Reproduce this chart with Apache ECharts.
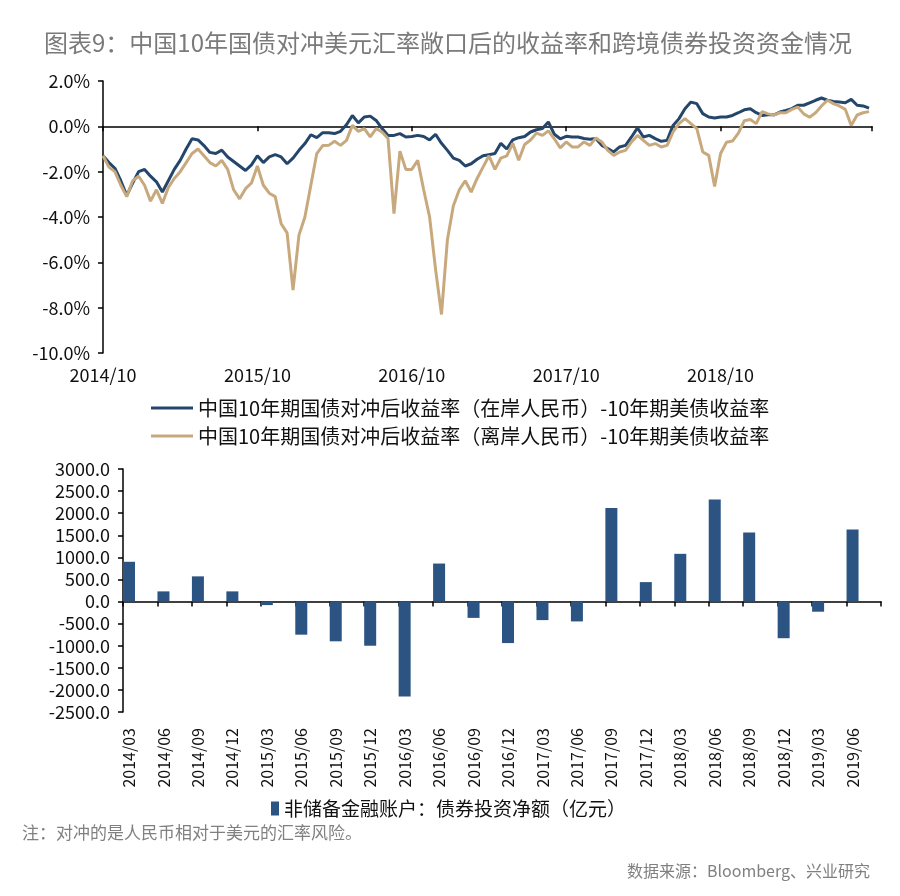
<!DOCTYPE html>
<html><head><meta charset="utf-8">
<script src="https://cdn.jsdelivr.net/npm/echarts@6/dist/echarts.min.js"></script>
<style>html,body{margin:0;padding:0;background:#fff}#c{width:900px;height:896px}</style>
</head><body><div id="c"></div>
<script>
const FONT = '"Noto Sans CJK SC","Noto Sans",sans-serif';

// ---- top chart: hedged yield spread, bi-weekly from 2014/10 ----
const lineNames = [
  '中国10年期国债对冲后收益率（在岸人民币）-10年期美债收益率',
  '中国10年期国债对冲后收益率（离岸人民币）-10年期美债收益率'
];
const yearTickLabels = ['2014/10', '2015/10', '2016/10', '2017/10', '2018/10'];
const periodsPerYear = 26;

const onshore = [
  -1.3, -1.6, -1.85, -2.4, -3.05, -2.5, -2.0, -1.9, -2.2, -2.45, -2.9, -2.4, -1.9, -1.5, -1.0, -0.55, -0.6, -0.85, -1.15, -1.2, -1.05, -1.35, -1.55, -1.75, -1.95, -1.7,
  -1.3, -1.6, -1.35, -1.25, -1.35, -1.65, -1.4, -1.06, -0.76, -0.37, -0.5, -0.28, -0.28, -0.32, -0.22, 0.07, 0.48, 0.15, 0.41, 0.45, 0.26, -0.1, -0.4, -0.4, -0.32, -0.47,
  -0.45, -0.4, -0.45, -0.6, -0.35, -0.75, -1.06, -1.4, -1.5, -1.75, -1.65, -1.45, -1.3, -1.25, -1.2, -0.75, -1.0, -0.6, -0.5, -0.45, -0.25, -0.15, -0.1, 0.19, -0.35, -0.55,
  -0.44, -0.47, -0.47, -0.54, -0.57, -0.54, -0.84, -0.98, -1.13, -0.91, -0.84, -0.47, -0.07, -0.47, -0.4, -0.54, -0.66, -0.62, 0.04, 0.34, 0.78, 1.07, 1.0, 0.56, 0.41, 0.37,
  0.41, 0.41, 0.48, 0.6, 0.73, 0.78, 0.6, 0.48, 0.51, 0.51, 0.63, 0.7, 0.78, 0.93, 0.93, 1.04, 1.15, 1.25, 1.15, 1.1, 1.07, 1.04, 1.19, 0.93, 0.9, 0.8
];
const offshore = [
  -1.3, -1.8, -2.0, -2.6, -3.1, -2.4, -2.2, -2.6, -3.3, -2.8, -3.4, -2.7, -2.3, -2.0, -1.6, -1.2, -1.0, -1.3, -1.6, -1.75, -1.5, -1.9, -2.8, -3.2, -2.75, -2.5,
  -1.75, -2.6, -2.95, -3.1, -4.3, -4.7, -7.22, -4.8, -4.0, -2.6, -1.2, -0.85, -0.84, -0.66, -0.84, -0.62, 0.04, -0.22, -0.1, -0.47, -0.1, -0.25, -0.54, -3.85, -1.1, -1.9,
  -1.9, -1.5, -2.8, -4.0, -6.3, -8.3, -5.0, -3.5, -2.8, -2.4, -2.9, -2.3, -1.8, -1.3, -1.9, -1.4, -1.3, -0.75, -1.5, -0.8, -0.6, -0.3, -0.4, -0.2, -0.55, -0.95,
  -0.69, -0.91, -0.91, -0.69, -0.84, -0.51, -0.69, -1.06, -1.28, -1.13, -1.06, -0.69, -0.4, -0.62, -0.84, -0.76, -0.91, -0.84, -0.25, 0.12, 0.34, 0.12, -0.1, -1.13, -1.28, -2.65,
  -1.2, -0.7, -0.65, -0.3, 0.25, 0.3, 0.12, 0.65, 0.55, 0.5, 0.6, 0.6, 0.75, 0.85, 0.55, 0.4, 0.6, 0.9, 1.15, 1.0, 0.9, 0.75, 0.04, 0.5, 0.6, 0.65
];

// ---- bottom chart: quarterly net bond investment (亿元) ----
const quarters = ['2014/03','2014/06','2014/09','2014/12','2015/03','2015/06','2015/09','2015/12',
  '2016/03','2016/06','2016/09','2016/12','2017/03','2017/06','2017/09','2017/12',
  '2018/03','2018/06','2018/09','2018/12','2019/03','2019/06'];
const bondFlows = [900, 230, 570, 230, -80, -750, -900, -1000,
  -2150, 860, -370, -940, -420, -450, 2120, 440,
  1080, 2310, 1560, -830, -230, 1630];
const barName = '非储备金融账户：债券投资净额（亿元）';

const blue = '#24466b', tan = '#c8a97e', barColor = '#2b5482';

const chart = echarts.init(document.getElementById('c'), null, { renderer: 'canvas' });
const axisBlack = { color: '#000', width: 1.5 };
const lblStyle = { color: '#111', fontFamily: FONT };

chart.setOption({
  backgroundColor: '#fff',
  animation: false,
  textStyle: { fontFamily: FONT },
  title: [
    { text: '图表9：中国10年国债对冲美元汇率敞口后的收益率和跨境债券投资资金情况', left: 44, top: 31, padding: 0,
      textStyle: { fontSize: 24, fontWeight: 'normal', color: '#7a7a7a', fontFamily: FONT } },
    { text: '注：对冲的是人民币相对于美元的汇率风险。', left: 22, top: 824, padding: 0,
      textStyle: { fontSize: 17, fontWeight: 'normal', color: '#808080', fontFamily: FONT } },
    { text: '数据来源：Bloomberg、兴业研究', right: 30, top: 863, padding: 0,
      textStyle: { fontSize: 16, fontWeight: 'normal', color: '#808080', fontFamily: FONT } }
  ],
  legend: [
    { data: lineNames, orient: 'vertical', left: 146, top: 393, itemWidth: 42, itemHeight: 14, itemGap: 8,
      icon: 'path://M0 0H42V3H0Z', symbolKeepAspect: true,
      textStyle: { fontSize: 20, color: '#111', fontFamily: FONT } },
    { data: [barName], left: 266, top: 794, itemWidth: 8, itemHeight: 14, itemGap: 4,
      icon: 'rect', textStyle: { fontSize: 19, color: '#111', fontFamily: FONT } }
  ],
  grid: [
    { left: 103, right: 28, top: 81, bottom: 543 },
    { left: 123, right: 19, top: 469, bottom: 184 },
    { left: 111.8, right: 30.2, top: 469, bottom: 184 }
  ],
  xAxis: [
    { type: 'value', gridIndex: 0, min: 0, max: 129.5, interval: periodsPerYear,
      axisLine: { onZero: true, lineStyle: axisBlack },
      axisTick: { show: true, length: 5, lineStyle: axisBlack },
      axisLabel: { show: false }, splitLine: { show: false } },
    { type: 'value', gridIndex: 0, min: 0, max: 129.5, interval: periodsPerYear, position: 'bottom',
      axisLine: { show: false, onZero: false }, axisTick: { show: false }, splitLine: { show: false },
      axisLabel: { fontSize: 18, margin: 13, ...lblStyle,
        formatter: v => (v % periodsPerYear === 0 && yearTickLabels[v / periodsPerYear]) || '' } },
    { type: 'category', gridIndex: 1, data: quarters, boundaryGap: true,
      axisLine: { onZero: true, lineStyle: axisBlack },
      axisTick: { show: true, length: 5, interval: 0, lineStyle: axisBlack },
      axisLabel: { show: false } },
    { type: 'category', gridIndex: 2, data: quarters, boundaryGap: true, position: 'bottom',
      axisLine: { show: false, onZero: false }, axisTick: { show: false },
      axisLabel: { interval: 0, rotate: 90, fontSize: 16, margin: 16, ...lblStyle } }
  ],
  yAxis: [
    { type: 'value', gridIndex: 0, min: -10, max: 2, interval: 2,
      axisLine: { show: true, onZero: false, lineStyle: axisBlack },
      axisTick: { show: true, length: 5, lineStyle: axisBlack },
      splitLine: { show: false },
      axisLabel: { fontSize: 18, margin: 13, ...lblStyle, formatter: v => v.toFixed(1) + '%' } },
    { type: 'value', gridIndex: 1, min: -2500, max: 3000, interval: 500,
      axisLine: { show: true, onZero: false, lineStyle: axisBlack },
      axisTick: { show: true, length: 5, lineStyle: axisBlack },
      splitLine: { show: false },
      axisLabel: { fontSize: 18, margin: 13, ...lblStyle, formatter: v => v.toFixed(1) } },
    { type: 'value', gridIndex: 2, min: -2500, max: 3000, show: false }
  ],
  series: [
    { name: lineNames[0], type: 'line', xAxisIndex: 0, yAxisIndex: 0, symbol: 'none',
      data: onshore.map((v, i) => [i, v]), lineStyle: { color: blue, width: 3 }, itemStyle: { color: blue } },
    { name: lineNames[1], type: 'line', xAxisIndex: 0, yAxisIndex: 0, symbol: 'none',
      data: offshore.map((v, i) => [i, v]), lineStyle: { color: tan, width: 3 }, itemStyle: { color: tan } },
    { name: barName, type: 'bar', xAxisIndex: 2, yAxisIndex: 1, data: bondFlows,
      barWidth: 12, barGap: '87%', itemStyle: { color: barColor } },
    { name: 'pad', type: 'bar', xAxisIndex: 2, yAxisIndex: 1, data: quarters.map(() => null),
      barWidth: 12, itemStyle: { color: 'transparent' } }
  ]
});
</script>
</body></html>
